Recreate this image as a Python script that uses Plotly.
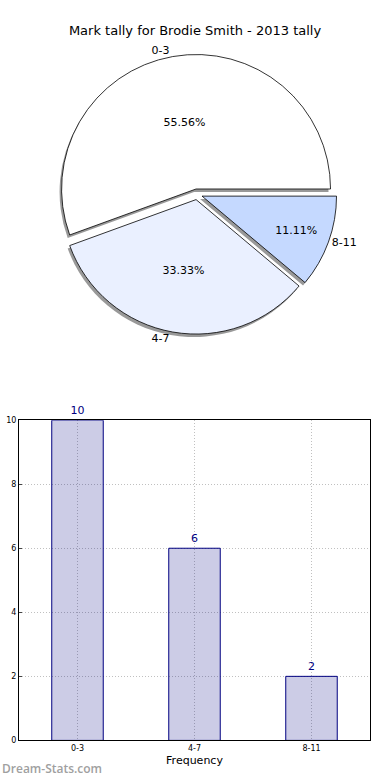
import plotly.graph_objects as go

categories = ["0-3", "4-7", "8-11"]
counts = [10, 6, 2]
pie_colors = ["#FFFFFF", "#EAF0FF", "#C5D9FF"]
title_text = "Mark tally for Brodie Smith - 2013 tally"
x_title = "Frequency"
y_ticks = [0, 2, 4, 6, 8, 10]
watermark = "Dream-Stats.com"

W, H = 390, 780
FONT = "DejaVu Sans"

pull = [0.04, 0.04, 0.04]
rot = 250
pie_dom_x = [0.1423, 0.8679]
pie_dom_y = [0.5718, 0.9346]
shadow_dx, shadow_dy = -2 / W, -3 / H

fig = go.Figure()

# shadow
fig.add_trace(go.Pie(
    labels=categories, values=counts, sort=False, direction="counterclockwise",
    rotation=rot, pull=pull,
    domain=dict(x=[pie_dom_x[0] + shadow_dx, pie_dom_x[1] + shadow_dx],
                y=[pie_dom_y[0] + shadow_dy, pie_dom_y[1] + shadow_dy]),
    marker=dict(colors=["#999999"] * 3, line=dict(width=0)),
    textinfo="none", showlegend=False, hoverinfo="skip",
))
# main pie with percentages
fig.add_trace(go.Pie(
    labels=categories, values=counts, sort=False, direction="counterclockwise",
    rotation=rot, pull=pull, domain=dict(x=pie_dom_x, y=pie_dom_y),
    marker=dict(colors=pie_colors, line=dict(color="black", width=0.8)),
    texttemplate="%{percent:.2%}", textposition="inside", insidetextorientation="horizontal",
    textfont=dict(family=FONT, size=11, color="black"),
    showlegend=False,
))
# outside labels
fig.add_trace(go.Pie(
    labels=categories, values=counts, sort=False, direction="counterclockwise",
    rotation=rot, pull=pull, domain=dict(x=pie_dom_x, y=pie_dom_y),
    marker=dict(colors=["rgba(0,0,0,0)"] * 3, line=dict(width=0)),
    textinfo="label", textposition="outside",
    textfont=dict(family=FONT, size=11, color="black"),
    showlegend=False, hoverinfo="skip",
))

fig.add_trace(go.Bar(
    x=categories, y=counts, width=0.44,
    marker=dict(color="rgba(0,0,128,0.2)", line=dict(color="#000080", width=1)),
    text=[str(v) for v in counts], textposition="outside",
    textfont=dict(family=FONT, size=11, color="#000080"),
    cliponaxis=False, showlegend=False,
))

axis_common = dict(
    showline=True, linecolor="black", linewidth=1, mirror=True,
    showgrid=True, gridcolor="#c0c0c0", griddash="1px,2px", gridwidth=1,
    zeroline=False, tickfont=dict(family=FONT, size=8, color="black"),
)

fig.update_layout(
    width=W, height=H,
    margin=dict(l=0, r=0, t=0, b=0),
    paper_bgcolor="white", plot_bgcolor="white",
    font=dict(family=FONT, color="black"),
    title=dict(text=title_text, x=0.5, xanchor="center", y=1 - 30 / H, yanchor="middle",
               font=dict(family=FONT, size=13, color="black")),
    xaxis=dict(domain=[19 / W, 370 / W], range=[-0.5, 2.5], type="category",
               title=dict(text=x_title, font=dict(family=FONT, size=11), standoff=4),
               ticks="", **axis_common),
    yaxis=dict(domain=[35 / H, 359 / H], range=[0, 10], tickvals=y_ticks,
               ticks="inside", ticklen=3, **axis_common),
    annotations=[dict(text=watermark, x=0, y=-4 / H, xref="paper", yref="paper",
                      xanchor="left", yanchor="bottom", showarrow=False,
                      font=dict(family="Open Sans", size=12, color="#a0a0a0", weight=600))],
)

fig.write_html("out.html", config={"displayModeBar": False},
               post_script="document.body.style.margin='0';")
